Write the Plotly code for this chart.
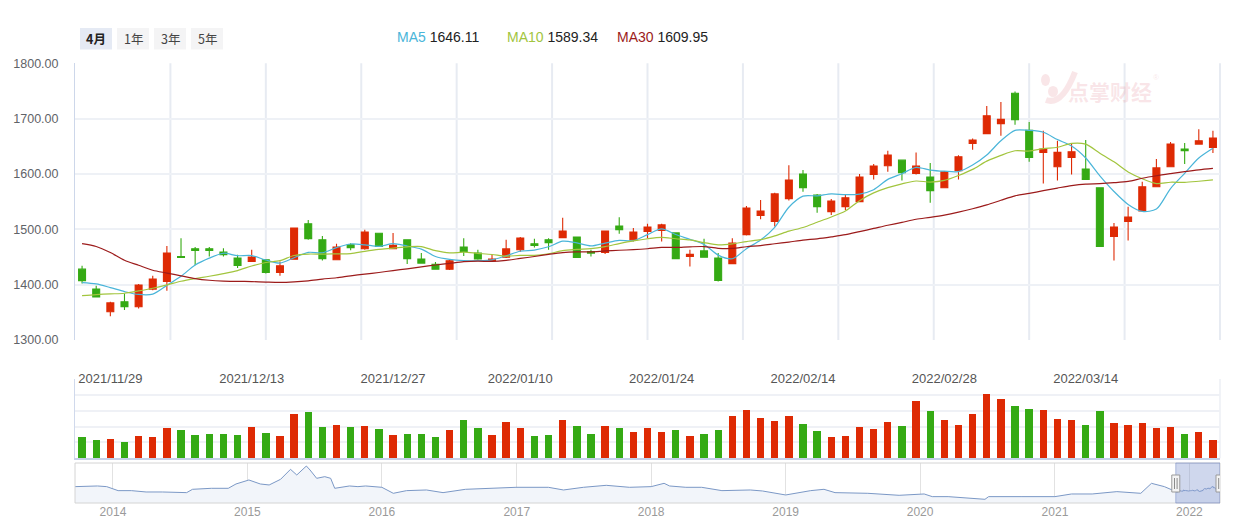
import plotly.graph_objects as go
import pandas as pd

W, H = 1250, 522

# ---------------- data ----------------
dates = [
    "2021/11/25", "2021/11/26", "2021/11/29", "2021/11/30", "2021/12/01", "2021/12/02", "2021/12/03",
    "2021/12/06", "2021/12/07", "2021/12/08", "2021/12/09", "2021/12/10",
    "2021/12/13", "2021/12/14", "2021/12/15", "2021/12/16", "2021/12/17",
    "2021/12/20", "2021/12/21", "2021/12/22", "2021/12/23", "2021/12/24",
    "2021/12/27", "2021/12/28", "2021/12/29", "2021/12/30", "2021/12/31",
    "2022/01/04", "2022/01/05", "2022/01/06", "2022/01/07",
    "2022/01/10", "2022/01/11", "2022/01/12", "2022/01/13", "2022/01/14",
    "2022/01/17", "2022/01/18", "2022/01/19", "2022/01/20", "2022/01/21",
    "2022/01/24", "2022/01/25", "2022/01/26", "2022/01/27", "2022/01/28",
    "2022/02/07", "2022/02/08", "2022/02/09", "2022/02/10", "2022/02/11",
    "2022/02/14", "2022/02/15", "2022/02/16", "2022/02/17", "2022/02/18",
    "2022/02/21", "2022/02/22", "2022/02/23", "2022/02/24", "2022/02/25",
    "2022/02/28", "2022/03/01", "2022/03/02", "2022/03/03", "2022/03/04",
    "2022/03/07", "2022/03/08", "2022/03/09", "2022/03/10", "2022/03/11",
    "2022/03/14", "2022/03/15", "2022/03/16", "2022/03/17", "2022/03/18",
    "2022/03/21", "2022/03/22", "2022/03/23", "2022/03/24", "2022/03/25",
]
opens = [1428, 1392, 1351, 1369, 1360, 1392, 1406, 1451, 1465, 1465, 1459, 1448, 1442, 1445, 1422, 1446,
         1510, 1481, 1445, 1472, 1465, 1493, 1465, 1481, 1446.5, 1437, 1428, 1468, 1457, 1443, 1449.5,
         1463, 1474, 1481, 1485, 1486, 1460, 1458, 1506, 1481, 1496, 1498, 1493.5, 1451, 1461, 1448,
         1438, 1490.5, 1525, 1514, 1555.5, 1600, 1562, 1532, 1541, 1550, 1599, 1615, 1625, 1601, 1594.6,
         1575, 1606, 1655, 1673, 1691, 1746, 1679, 1639, 1613, 1630, 1609, 1575, 1487, 1514, 1533, 1577,
         1613, 1645, 1654, 1648]
highs = [1434, 1398, 1369, 1384, 1401, 1416, 1470, 1484, 1468, 1468, 1466, 1454, 1463, 1446, 1442, 1503,
         1517, 1488, 1474, 1475, 1499, 1493, 1493.5, 1481, 1457, 1441, 1446.5, 1484, 1463, 1454, 1481,
         1486, 1483, 1484, 1521, 1486, 1463, 1497, 1522, 1502.5, 1510, 1510, 1493.5, 1463, 1483, 1457,
         1484, 1542, 1553, 1566, 1616, 1607, 1564, 1555, 1563, 1600, 1618, 1642, 1625, 1639, 1620,
         1605.5, 1634, 1664, 1723, 1730, 1749, 1694, 1678, 1660, 1654, 1661.5, 1575, 1511.5, 1541, 1586,
         1627, 1658, 1656, 1681, 1678]
lows = [1402, 1377, 1343, 1354, 1357, 1390, 1389, 1449, 1435, 1451, 1451, 1430, 1441, 1420, 1416, 1446,
        1481, 1443.5, 1445, 1462, 1463, 1469, 1465, 1437.5, 1439, 1428, 1426.6, 1452, 1445, 1442, 1448,
        1459, 1467, 1463, 1485, 1449, 1451, 1455.5, 1492, 1478, 1484, 1478, 1447, 1433, 1449.5, 1405.6,
        1438, 1489, 1518, 1505, 1552, 1568, 1530, 1526, 1535, 1550, 1590, 1604, 1588, 1599, 1548,
        1575, 1590, 1644, 1673, 1669, 1689, 1622, 1583, 1588, 1599, 1590, 1469, 1443.5, 1480, 1533,
        1577, 1613, 1618, 1654, 1638]
closes = [1407, 1378, 1367, 1360, 1399.5, 1410, 1457, 1449, 1462, 1462, 1454, 1434.5, 1450, 1422, 1434,
          1502.5, 1483, 1447, 1468, 1467, 1495, 1469, 1471, 1447, 1439, 1428, 1443, 1460, 1446.5, 1446.5,
          1464.6, 1484, 1471, 1476, 1497, 1449, 1457, 1497, 1499.5, 1495, 1504, 1508, 1447, 1455, 1449.5,
          1407.4, 1475, 1538.6, 1533, 1564, 1589, 1575, 1541, 1551, 1557, 1594.6, 1614.5, 1634, 1602.5,
          1614.5, 1570, 1604, 1631, 1661.5, 1705, 1699, 1698, 1630, 1645, 1639, 1640, 1590, 1469, 1504,
          1522, 1577, 1611, 1654, 1642, 1660, 1665]
volumes = [26.9, 23.1, 24.3, 20.6, 28.1, 26.9, 38.2, 35.7, 29.4, 30.6, 30.6, 29.4, 39.5, 31.9, 28.1, 55.9,
           58.4, 39.5, 42.0, 39.5, 40.7, 36.9, 29.4, 30.6, 30.6, 26.9, 35.7, 48.3, 38.2, 29.4, 45.8, 38.2,
           28.1, 29.4, 48.3, 40.7, 30.6, 40.7, 38.2, 33.2, 38.2, 33.2, 35.7, 28.1, 30.6, 35.7, 53.3, 60.9,
           50.8, 47.0, 53.3, 43.3, 34.4, 26.9, 28.1, 39.5, 36.9, 45.8, 40.7, 72.3, 59.6, 48.3, 42.0, 55.9,
           81.1, 74.8, 66.0, 62.2, 60.9, 49.6, 48.3, 42.0, 59.6, 44.5, 42.0, 44.5, 38.2, 39.5, 30.6, 33.2,
           23.1]
tick_dates = ["2021/11/29", "2021/12/13", "2021/12/27", "2022/01/10",
              "2022/01/24", "2022/02/14", "2022/02/28", "2022/03/14"]

# moving-average values before a full window is available
ma5_head = [1403.7, 1401.3, 1394.7, 1387.5]
ma10_head = [1380.3, 1382.1, 1383.3, 1384.5, 1388.7, 1393.5, 1399.5, 1406.2, 1411.0]
ma30_head = [1474, 1469, 1458, 1444, 1435, 1426, 1421, 1416, 1411, 1408, 1406.5, 1406, 1405.5, 1404.6,
             1404, 1405, 1407, 1410, 1412.5, 1416, 1419, 1422, 1425.5, 1428.5, 1432, 1435.5, 1438.5,
             1441.5, 1442.5]
ma_names = ["MA5", "MA10", "MA30"]
ma_last = [1646.11, 1589.34, 1609.95]

range_buttons = ["4月", "1年", "3年", "5年"]

nav_hist_dates = ["2013-09-20", "2013-11-20", "2013-12-15", "2014-01-15", "2014-02-20", "2014-04-01",
                  "2014-05-15", "2014-07-20", "2014-08-05", "2014-09-25", "2014-11-10", "2014-12-01",
                  "2015-01-05", "2015-02-05", "2015-03-01", "2015-04-01", "2015-04-28", "2015-05-15",
                  "2015-06-10", "2015-06-20", "2015-07-08", "2015-07-30", "2015-08-15", "2015-08-26",
                  "2015-10-05", "2015-10-28", "2015-11-18", "2016-01-01", "2016-02-01", "2016-03-08",
                  "2016-05-01", "2016-06-15", "2016-08-15", "2016-10-15", "2016-12-30", "2017-03-28",
                  "2017-05-08", "2017-07-01", "2017-09-01", "2017-11-03", "2018-01-01", "2018-02-05",
                  "2018-02-20", "2018-04-05", "2018-05-18", "2018-07-12", "2018-09-27", "2018-10-30",
                  "2019-01-01", "2019-03-10", "2019-04-15", "2019-05-15", "2019-08-12", "2019-11-05",
                  "2020-01-12", "2020-02-03", "2020-03-17", "2020-06-25", "2020-07-05", "2020-10-01",
                  "2020-11-25", "2021-01-01", "2021-02-15", "2021-04-12", "2021-06-18", "2021-08-22",
                  "2021-09-20", "2021-10-25"]
nav_hist_values = [1709, 1750, 1709, 1462, 1462, 1379, 1379, 1338, 1544, 1606, 1606, 1874, 2121, 1874,
                   1812, 2162, 2780, 2430, 2986, 2739, 2224, 2327, 2224, 1606, 1750, 1709, 1750, 1668,
                   1297, 1462, 1503, 1338, 1544, 1606, 1668, 1668, 1503, 1668, 1791, 1668, 1709, 1915,
                   1750, 1668, 1668, 1462, 1503, 1441, 1194, 1462, 1544, 1338, 1297, 1173, 1256, 1091,
                   1091, 926, 1091, 1091, 1091, 1091, 1256, 1256, 1400, 1297, 1915, 1709]

# ---------------- derived ----------------
cl = pd.Series(closes)
ma5 = list(ma5_head) + cl.rolling(5).mean().tolist()[4:]
ma10 = list(ma10_head) + cl.rolling(10).mean().tolist()[9:]
ma30 = list(ma30_head) + cl.rolling(30).mean().tolist()[29:]

RED, GREEN = "#de2a04", "#35aa14"
MA_COLORS = ["#4ab5d9", "#a2c53e", "#9c1b1b"]
vol_colors = [RED if c >= o else GREEN for o, c in zip(opens, closes)]

nav_dates = list(pd.to_datetime(nav_hist_dates)) + list(pd.to_datetime(dates, format="%Y/%m/%d"))
nav_values = list(nav_hist_values) + list(closes)


def fx(px):
    return px / W


def fy(py):
    return 1 - py / H


X_DOM = [fx(75), fx(1220)]
FONT = "Liberation Sans, Arial, sans-serif"
CJK = "Noto Sans CJK SC, sans-serif"

fig = go.Figure()

fig.add_trace(go.Candlestick(
    x=dates, open=opens, high=highs, low=lows, close=closes,
    increasing=dict(line=dict(color=RED, width=1.1), fillcolor=RED),
    decreasing=dict(line=dict(color=GREEN, width=1.1), fillcolor=GREEN),
    whiskerwidth=0, xaxis="x", yaxis="y", hoverinfo="skip",
))
for name, vals, col in zip(ma_names, [ma5, ma10, ma30], MA_COLORS):
    fig.add_trace(go.Scatter(x=dates, y=vals, mode="lines", name=name,
                             line=dict(color=col, width=1.2, shape="spline", smoothing=0.8),
                             xaxis="x", yaxis="y", hoverinfo="skip"))

fig.add_trace(go.Bar(x=dates, y=volumes, marker=dict(color=vol_colors, line=dict(width=0)),
                     width=0.52, xaxis="x2", yaxis="y2", hoverinfo="skip"))

fig.add_trace(go.Scatter(x=nav_dates, y=nav_values, mode="lines",
                         line=dict(color="#7b98c6", width=1), fill="tozeroy",
                         fillcolor="#f2f5fa", xaxis="x3", yaxis="y3", hoverinfo="skip"))

shapes = []
# vertical split lines of the price panel
for k in range(1, 13):
    shapes.append(dict(type="line", xref="x domain", yref="y domain", x0=k / 12, x1=k / 12, y0=0, y1=1,
                       line=dict(color="#e7ebf2", width=2), layer="below"))
# right edge of volume panel
shapes.append(dict(type="line", xref="x2 domain", yref="y2 domain", x0=1, x1=1, y0=0, y1=1,
                   line=dict(color="#eceff5", width=1.5), layer="below"))
# navigator frame
shapes.append(dict(type="rect", xref="paper", yref="paper", x0=X_DOM[0], x1=X_DOM[1], y0=fy(503), y1=fy(463),
                   line=dict(color="#d4d4d4", width=1), layer="above"))
# navigator selection window
shapes.append(dict(type="rect", xref="x3", yref="y3 domain", x0=nav_dates[len(nav_hist_dates)],
                   x1=nav_dates[-1], y0=0, y1=1, fillcolor="rgba(135,155,210,0.40)",
                   line=dict(color="rgba(120,140,195,0.55)", width=1), layer="above"))
for d in [nav_dates[len(nav_hist_dates)], nav_dates[-1]]:
    shapes.append(dict(type="rect", xref="x3", yref="paper", xsizemode="pixel", xanchor=d,
                       x0=-4, x1=4, y0=fy(492), y1=fy(475), fillcolor="#f4f4f4",
                       line=dict(color="#9a9a9a", width=1), layer="above"))
    for off in (-1.3, 1.3):
        shapes.append(dict(type="line", xref="x3", yref="paper", xsizemode="pixel", xanchor=d,
                           x0=off, x1=off, y0=fy(489), y1=fy(478),
                           line=dict(color="#8a8a8a", width=1), layer="above"))

# range buttons
btn_x = [80, 117, 154, 191]
for i, (lab, bx) in enumerate(zip(range_buttons, btn_x)):
    shapes.append(dict(type="rect", xref="paper", yref="paper", x0=fx(bx), x1=fx(bx + 32),
                       y0=fy(49.5), y1=fy(28), fillcolor="#e5eaf4" if i == 0 else "#f4f4f5",
                       line=dict(width=0), layer="below"))

# watermark logo (light pink)
WM = "rgba(228,140,150,0.22)"
shapes.append(dict(type="circle", xref="paper", yref="paper", x0=fx(1041), x1=fx(1050), y0=fy(86), y1=fy(74),
                   fillcolor=WM, line=dict(width=0)))
shapes.append(dict(type="circle", xref="paper", yref="paper", x0=fx(1048), x1=fx(1058), y0=fy(97), y1=fy(86),
                   fillcolor=WM, line=dict(width=0)))
shapes.append(dict(type="path", xref="paper", yref="paper",
                   path=f"M {fx(1046)} {fy(100)} Q {fx(1062)} {fy(106)} {fx(1075)} {fy(72)}",
                   line=dict(color=WM, width=6)))

annotations = []
for i, (lab, bx) in enumerate(zip(range_buttons, btn_x)):
    annotations.append(dict(xref="paper", yref="paper", x=fx(bx + 16), y=fy(38.5), text=(f"<b>{lab}</b>" if i == 0 else lab),
                            showarrow=False, xanchor="center", yanchor="middle",
                            font=dict(family=CJK, size=12.5, color="#222" if i == 0 else "#444")))
legend_x = [395, 505, 615]
for name, val, col, lx in zip(ma_names, ma_last, MA_COLORS, legend_x):
    annotations.append(dict(xref="paper", yref="paper", x=fx(lx), y=fy(36.5),
                            text=f"<span style='color:{col}'>{name}</span> {val:.2f}",
                            showarrow=False, xanchor="left", yanchor="middle",
                            font=dict(family=FONT, size=14, color="#222")))
annotations.append(dict(xref="paper", yref="paper", x=fx(1110), y=fy(91), text="<b>点掌财经</b>",
                        showarrow=False, xanchor="center", yanchor="middle",
                        font=dict(family=CJK, size=21, color=WM)))
annotations.append(dict(xref="paper", yref="paper", x=fx(1156), y=fy(77), text="®",
                        showarrow=False, xanchor="center", yanchor="middle",
                        font=dict(family=FONT, size=8, color=WM)))

fig.update_layout(
    width=W, height=H, margin=dict(l=0, r=0, t=0, b=0, pad=0), autosize=False,
    paper_bgcolor="white", plot_bgcolor="white", showlegend=False,
    shapes=shapes, annotations=annotations, bargap=0,
    xaxis=dict(domain=X_DOM, anchor="y", type="category", categoryorder="array", categoryarray=dates,
               range=[-0.5, len(dates) - 0.5], rangeslider=dict(visible=False), showgrid=False,
               tickvals=tick_dates, ticktext=tick_dates, ticks="outside", ticklen=26,
               tickcolor="rgba(0,0,0,0)", tickfont=dict(family=FONT, size=13, color="#555"),
               showline=False, zeroline=False, automargin=False),
    yaxis=dict(domain=[fy(340), fy(63.3)], anchor="x", range=[1300, 1800], dtick=100, tickformat=".2f",
               gridcolor="#eef1f6", gridwidth=1.5, showline=True, linecolor="#cdd7ea", linewidth=1,
               ticks="outside", ticklen=13, tickcolor="rgba(0,0,0,0)",
               tickfont=dict(family=FONT, size=12.5, color="#5f6368"), zeroline=False, automargin=False),
    xaxis2=dict(domain=X_DOM, anchor="y2", type="category", matches="x", showticklabels=False,
                showgrid=False, showline=True, linecolor="#c6d1e8", linewidth=1.5, ticks="", zeroline=False,
                automargin=False),
    yaxis2=dict(domain=[fy(458.3), fy(379)], anchor="x2", range=[0, 100], dtick=20, showticklabels=False,
                gridcolor="#eff1f6", gridwidth=1.5, showline=True, linecolor="#d0d9ec", linewidth=1,
                zeroline=False, ticks="", automargin=False),
    xaxis3=dict(domain=X_DOM, anchor="y3", type="date", range=[nav_dates[0], nav_dates[-1]],
                tick0="2014-01-01", dtick="M12", tickformat="%Y", showgrid=True, gridcolor="#e2e2e2",
                gridwidth=1, ticks="", tickfont=dict(family=FONT, size=12, color="#9a9a9a"),
                showline=False, zeroline=False, automargin=False),
    yaxis3=dict(domain=[fy(503), fy(463)], anchor="x3", range=[697, 3172], showgrid=False,
                showticklabels=False, zeroline=False, ticks="", automargin=False),
)

fig.write_html("out.html", config={"displayModeBar": False},
               post_script="document.body.style.margin='0px';document.body.style.overflow='hidden';")
